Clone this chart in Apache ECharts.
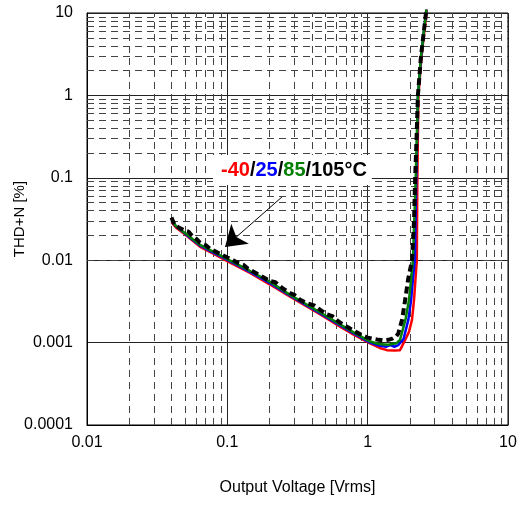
<!DOCTYPE html>
<html>
<head>
<meta charset="utf-8">
<script src="https://cdn.jsdelivr.net/npm/echarts@6/dist/echarts.min.js"></script>
<style>
  html, body { margin: 0; padding: 0; background: #fff; }
  #chart { width: 521px; height: 505px; }
</style>
</head>
<body>
<div id="chart"></div>
<script>
// tick labels
const xTickLabels = ['0.01', '0.1', '1', '10']
const yTickLabels = ['0.0001', '0.001', '0.01', '0.1', '1', '10']
const minorMultipliers = [2, 3, 4, 5, 6, 7, 8, 9]
const xDecades = [0.01, 0.1, 1]
const yDecades = [0.0001, 0.001, 0.01, 0.1, 1]

// -40 C
const voltRed = [0.04, 0.043, 0.05, 0.064, 0.08, 0.096, 0.145, 0.2, 0.28, 0.46, 0.64, 0.8, 1.04, 1.22, 1.37, 1.55, 1.7, 1.85, 1.97, 2.07, 2.14, 2.19, 2.24, 2.26, 2.3, 2.42, 2.64]
const thdRed = [0.029, 0.025, 0.0205, 0.0145, 0.0119, 0.0101, 0.0070, 0.0051, 0.0036, 0.0022, 0.00155, 0.00124, 0.00098, 0.00086, 0.00081, 0.0008, 0.00081, 0.00108, 0.00135, 0.0019, 0.0033, 0.0058, 0.01, 0.1, 1, 3, 11]
// 25 C
const voltBlue = [0.04, 0.043, 0.05, 0.064, 0.08, 0.097, 0.145, 0.2, 0.28, 0.46, 0.64, 0.8, 1.04, 1.2, 1.35, 1.45, 1.55, 1.65, 1.8, 1.95, 2.04, 2.1, 2.17, 2.22, 2.28, 2.4, 2.62]
const thdBlue = [0.03, 0.0258, 0.021, 0.015, 0.0123, 0.0104, 0.0072, 0.0053, 0.0037, 0.00226, 0.0016, 0.00128, 0.001, 0.00092, 0.00089, 0.00093, 0.00089, 0.00093, 0.0011, 0.0019, 0.0033, 0.0058, 0.01, 0.1, 1, 3, 11]
// 85 C
const voltGreen = [0.04, 0.043, 0.05, 0.064, 0.08, 0.097, 0.145, 0.2, 0.28, 0.46, 0.64, 0.8, 1.04, 1.2, 1.4, 1.6, 1.7, 1.86, 1.97, 2.04, 2.1, 2.2, 2.28, 2.4, 2.62]
const thdGreen = [0.031, 0.026, 0.0213, 0.0153, 0.0126, 0.0106, 0.0074, 0.0055, 0.0038, 0.00232, 0.00165, 0.00132, 0.00103, 0.00096, 0.00094, 0.00098, 0.00108, 0.0019, 0.0033, 0.0058, 0.01, 0.1, 1, 3, 11]
// 105 C
const voltBlack = [0.04, 0.042, 0.045, 0.05, 0.053, 0.056, 0.06, 0.064, 0.07, 0.075, 0.08, 0.09, 0.1, 0.11, 0.12, 0.13, 0.14, 0.155, 0.17, 0.19, 0.2, 0.22, 0.25, 0.28, 0.3, 0.33, 0.37, 0.42, 0.46, 0.51, 0.56, 0.62, 0.68, 0.75, 0.83, 0.92, 1.0, 1.1, 1.2, 1.3, 1.4, 1.5, 1.6, 1.65, 1.76, 1.85, 1.94, 2.07, 2.14, 2.18, 2.23, 2.28, 2.4, 2.62]
const thdBlack = [0.033, 0.027, 0.025, 0.0228, 0.0222, 0.0198, 0.0182, 0.0163, 0.0153, 0.0138, 0.0131, 0.0118, 0.0108, 0.0100, 0.0092, 0.0088, 0.0079, 0.0072, 0.0066, 0.0059, 0.0056, 0.0054, 0.0045, 0.0040, 0.0038, 0.0033, 0.0030, 0.0028, 0.0025, 0.0022, 0.0021, 0.0018, 0.00163, 0.00148, 0.00134, 0.00122, 0.00115, 0.00111, 0.00108, 0.00106, 0.00108, 0.00112, 0.0012, 0.00128, 0.0019, 0.0033, 0.0058, 0.01, 0.03, 0.1, 0.3, 1, 3, 11]

// arrow annotation, in data units
const arrowFrom = [0.245, 0.0585]
const arrowTo = [0.0963, 0.0145]

const pairs = (xs, ys) => xs.map((x, i) => [x, ys[i]])

const minorX = []
xDecades.forEach(d => minorMultipliers.forEach(m => minorX.push(d * m)))
const minorY = []
yDecades.forEach(d => minorMultipliers.forEach(m => minorY.push(d * m)))

const labelFor = (labels, start) => v => labels[Math.round(Math.log10(v)) - start] || ''

const font = 'Liberation Sans, Arial, sans-serif'

const chart = echarts.init(document.getElementById('chart'), null, {renderer: 'canvas'})

chart.setOption({
  animation: false,
  grid: {
    left: 87, right: 13, top: 13, bottom: 80,
    containLabel: false, outerBoundsMode: 'none',
    show: true, borderColor: '#000', borderWidth: 1
  },
  xAxis: {
    type: 'log', logBase: 10, min: 0.01, max: 10,
    name: 'Output Voltage [Vrms]', nameLocation: 'middle', nameGap: 55, nameMoveOverlap: false,
    nameTextStyle: {fontSize: 16, color: '#000', fontFamily: font},
    axisLine: {lineStyle: {color: '#000'}},
    axisTick: {show: false},
    axisLabel: {fontSize: 16, color: '#000', fontFamily: font, margin: 10, formatter: labelFor(xTickLabels, -2)},
    splitLine: {show: true, lineStyle: {color: '#222', width: 1}}
  },
  yAxis: {
    type: 'log', logBase: 10, min: 0.0001, max: 10,
    name: 'THD+N [%]', nameLocation: 'middle', nameGap: 60, nameMoveOverlap: false,
    nameTextStyle: {fontSize: 15, color: '#000', fontFamily: font},
    axisLine: {lineStyle: {color: '#000'}},
    axisTick: {show: false},
    axisLabel: {fontSize: 16, color: '#000', fontFamily: font, margin: 14, formatter: labelFor(yTickLabels, -4)},
    splitLine: {show: true, lineStyle: {color: '#222', width: 1}}
  },
  series: [
    {
      // minor grid, dashed
      type: 'line', data: [[0.1, 0.01]], symbol: 'none', silent: true, z: 1,
      lineStyle: {opacity: 0},
      markLine: {
        silent: true, symbol: 'none', z: 1, animation: false,
        label: {show: false},
        lineStyle: {color: '#444', width: 1, type: [7, 5]},
        data: minorX.map(v => ({xAxis: v})).concat(minorY.map(v => ({yAxis: v})))
      }
    },
    {type: 'line', data: pairs(voltRed, thdRed), symbol: 'none', clip: false, lineStyle: {color: '#ff0000', width: 2.5}},
    {type: 'line', data: pairs(voltBlue, thdBlue), symbol: 'none', clip: false, lineStyle: {color: '#0000ff', width: 2.5}},
    {type: 'line', data: pairs(voltGreen, thdGreen), symbol: 'none', clip: false, lineStyle: {color: '#008000', width: 2.5}},
    {type: 'line', data: pairs(voltBlack, thdBlack), symbol: 'none', clip: false, lineStyle: {color: '#000', width: 4, type: [7, 4]}},
    {
      // arrow
      type: 'line', data: [[0.1, 0.01]], symbol: 'none', silent: true,
      lineStyle: {opacity: 0},
      markLine: {
        silent: true, animation: false, symbol: ['none', 'arrow'], symbolSize: 20,
        label: {show: false},
        lineStyle: {color: '#000', width: 1, type: 'solid'},
        data: [[{coord: arrowFrom}, {coord: arrowTo}]]
      }
    }
  ],
  graphic: [{
    type: 'text', left: 213, top: 155, z: 10,
    style: {
      text: '{r|-40}{k|/}{b|25}{k|/}{g|85}{k|/105°C}',
      backgroundColor: '#fff',
      padding: [5, 5, 5, 8],
      rich: {
        r: {fill: '#ff0000', fontSize: 20, fontWeight: 'bold', fontFamily: font},
        b: {fill: '#0000ff', fontSize: 20, fontWeight: 'bold', fontFamily: font},
        g: {fill: '#008000', fontSize: 20, fontWeight: 'bold', fontFamily: font},
        k: {fill: '#000', fontSize: 20, fontWeight: 'bold', fontFamily: font}
      }
    }
  }]
})
</script>
</body>
</html>
